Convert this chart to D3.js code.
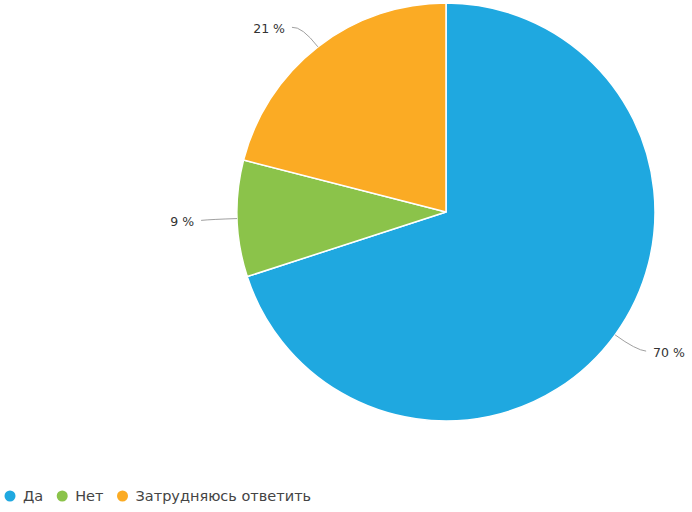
<!DOCTYPE html>
<html>
<head>
<meta charset="utf-8">
<script src="https://cdn.jsdelivr.net/npm/d3@7"></script>
<style>
  body { margin: 0; background: #fff; }
  svg { display: block; }
  text { font-family: "DejaVu Sans", sans-serif; }
</style>
</head>
<body>
<svg id="chart" width="692" height="512"></svg>
<script>
var categories = ['Да', 'Нет', 'Затрудняюсь ответить']
var values = [70, 9, 21]
var colors = ['#1fa8e0', '#8bc34a', '#fbab24']

var svg = d3.select('#chart')
var cx = 446, cy = 212, radius = 209

var pie = d3.pie().sort(null).value(function (d) { return d })
var arcs = pie(values)

var arc = d3.arc().innerRadius(0).outerRadius(radius)

var plot = svg.append('g')
    .attr('transform', 'translate(' + cx + ', ' + cy + ')')

plot.selectAll('path.slice')
    .data(arcs)
    .enter()
    .append('path')
    .attr('class', 'slice')
    .attr('d', arc)
    .attr('fill', function (d, i) { return colors[i] })
    .attr('stroke', '#fff')
    .attr('stroke-width', 1.5)
    .attr('stroke-linejoin', 'round')

function polar(a, r) { return [Math.sin(a) * r, -Math.cos(a) * r] }

var labels = plot.selectAll('g.label')
    .data(arcs)
    .enter()
    .append('g')
    .attr('class', 'label')

// leader line: out along the radius, then bend to horizontal
labels.append('path')
    .attr('d', function (d) {
        var a = (d.startAngle + d.endAngle) / 2
        var p0 = polar(a, radius), p1 = polar(a, radius + 26)
        var side = Math.sin(a) >= 0 ? 1 : -1
        return 'M' + p0 + 'Q' + p1 + ' ' + [p1[0] + side * 10, p1[1] + 1]
    })
    .attr('fill', 'none')
    .attr('stroke', '#a0a0a0')
    .attr('stroke-width', 1)

labels.append('text')
    .attr('x', function (d) {
        var a = (d.startAngle + d.endAngle) / 2
        var side = Math.sin(a) >= 0 ? 1 : -1
        return polar(a, radius + 26)[0] + side * 17
    })
    .attr('y', function (d) { return polar((d.startAngle + d.endAngle) / 2, radius + 26)[1] + 2 })
    .attr('dy', '0.35em')
    .attr('text-anchor', function (d) { return Math.sin((d.startAngle + d.endAngle) / 2) >= 0 ? 'start' : 'end' })
    .attr('font-size', 12.5)
    .attr('fill', '#333')
    .text(function (d) { return d.value + ' %' })

var legend = svg.append('g')
    .attr('transform', 'translate(0, 496)')

var legendX = 10
categories.forEach(function (name, i) {
    var item = legend.append('g').attr('transform', 'translate(' + legendX + ', 0)')
    item.append('circle').attr('r', 5.5).attr('fill', colors[i])
    var t = item.append('text')
        .attr('x', 13)
        .attr('dy', '0.35em')
        .attr('font-size', 14.5)
        .attr('fill', '#444')
        .text(name)
    legendX += 13 + t.node().getComputedTextLength() + 19
})
</script>
</body>
</html>
